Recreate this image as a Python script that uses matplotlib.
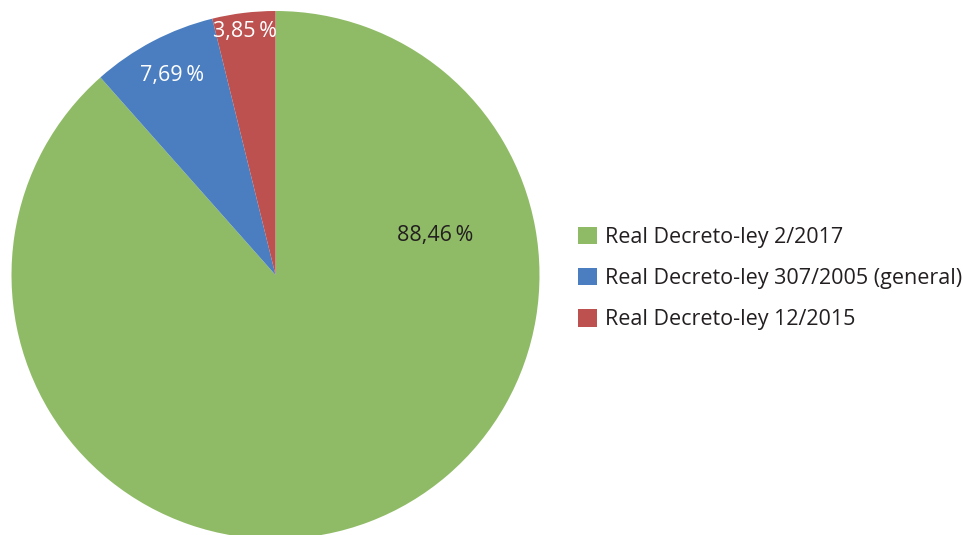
import matplotlib
matplotlib.use("Agg")
import matplotlib.pyplot as plt

labels = ["Real Decreto-ley 2/2017", "Real Decreto-ley 307/2005 (general)", "Real Decreto-ley 12/2015"]
values = [88.46, 7.69, 3.85]
colors = ["#8FBB66", "#4A7EC0", "#BC5150"]
pct_colors = ["#231F20", "white", "white"]

plt.rcParams['font.family'] = ['Open Sans', 'DejaVu Sans']

W, H = 963, 535
fig = plt.figure(figsize=(W / 100, H / 100), dpi=100)
r = 264
cx, cy = 275.5, 275
ax = fig.add_axes([(cx - r) / W, (H - cy - r) / H, 2 * r / W, 2 * r / H])
wedges, texts = ax.pie(values, colors=colors, startangle=90, counterclock=False,
                       radius=1.0, wedgeprops=dict(linewidth=0))
ax.set_xlim(-1, 1)
ax.set_ylim(-1, 1)
ax.set_aspect('equal')
ax.axis('off')

label_pos = [(0.604, 0.148), (-0.392, 0.754), (-0.1155, 0.924)]
for v, pos, c in zip(values, label_pos, pct_colors):
    s = f"{v:.2f}".replace(".", ",") + "\u2009%"
    ax.text(pos[0], pos[1], s, ha='center', va='center', color=c, fontsize=15.5)

leg = fig.legend(wedges, labels, loc='center left', bbox_to_anchor=(578 / W, 1 - 278.5 / H),
                 frameon=False, fontsize=15.5, handlelength=0.88, handleheight=0.88,
                 handletextpad=0.38, labelspacing=0.92, borderpad=0, borderaxespad=0,
                 labelcolor="#231F20")

fig.savefig("out.png", dpi=100)
